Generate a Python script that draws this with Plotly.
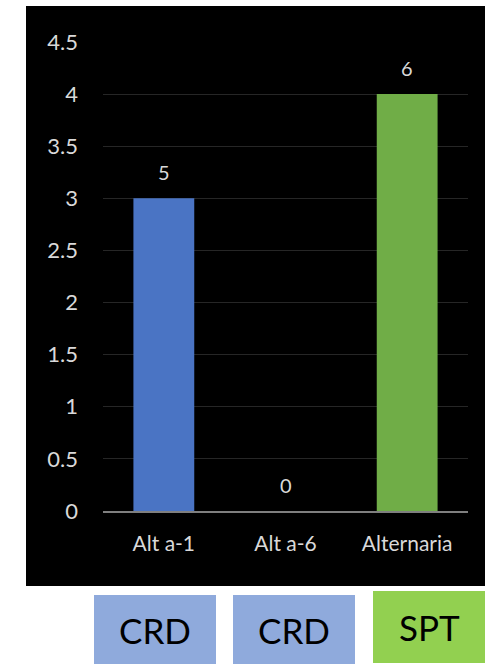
import plotly.graph_objects as go

categories = ["Alt a-1", "Alt a-6", "Alternaria"]
values = [3, 0, 4]
labels = ["5", "0", "6"]
bar_colors = ["#4a74c4", "#4a74c4", "#70ad47"]
method_labels = ["CRD", "CRD", "SPT"]
method_colors = ["#8faadc", "#8faadc", "#92d050"]

FONT = "Lato"
W, H = 485, 664

fig = go.Figure()
fig.add_trace(go.Bar(x=categories, y=values, marker=dict(color=bar_colors, line=dict(width=0)),
                     width=0.5, hoverinfo="skip"))

for c, v, t in zip(categories, values, labels):
    fig.add_annotation(x=c, y=v, text=t, showarrow=False, yanchor="middle", yshift=26,
                       font=dict(family=FONT, size=20, color="#d9d9d9"))

# black panel behind the chart
fig.add_shape(type="rect", xref="paper", yref="paper", layer="below",
              x0=(26 - 103) / 365, x1=(485 - 103) / 365,
              y0=(511 - 586) / 469, y1=(511 - 6) / 469,
              fillcolor="#000000", line=dict(width=0))

# method boxes below the chart
boxes = [(94, 216, 595, 664), (233, 355, 595, 664), (373, 485, 591, 663)]
for (x0, x1, y0, y1), lab, col in zip(boxes, method_labels, method_colors):
    fig.add_shape(type="rect", xref="paper", yref="paper",
                  x0=(x0 - 103) / 365, x1=(x1 - 103) / 365,
                  y0=(511 - y1) / 469, y1=(511 - y0) / 469,
                  fillcolor=col, line=dict(width=0))
    fig.add_annotation(xref="paper", yref="paper",
                       x=((x0 + x1) / 2 - 103) / 365, y=(511 - (y0 + y1) / 2) / 469,
                       text=lab, showarrow=False, xanchor="center", yanchor="middle",
                       font=dict(family=FONT, size=35, color="#000000"))

fig.update_layout(
    width=W, height=H,
    margin=dict(l=103, r=17, t=42, b=153),
    paper_bgcolor="#ffffff", plot_bgcolor="#000000",
    showlegend=False, bargap=0.5,
    font=dict(family=FONT, color="#d9d9d9"),
)
fig.update_xaxes(showgrid=False, showline=True, linecolor="#7f7f7f", linewidth=2,
                 ticks="", ticklabelstandoff=13,
                 tickfont=dict(family=FONT, size=21, color="#d9d9d9"))
fig.update_yaxes(range=[0, 4.5], dtick=0.5, tick0=0, showgrid=True, gridcolor="#262626",
                 gridwidth=1, zeroline=False, showline=False, ticks="",
                 ticklabelstandoff=24, tickformat="~g",
                 tickfont=dict(family=FONT, size=22, color="#d9d9d9"))

fig.write_html("out.html")
